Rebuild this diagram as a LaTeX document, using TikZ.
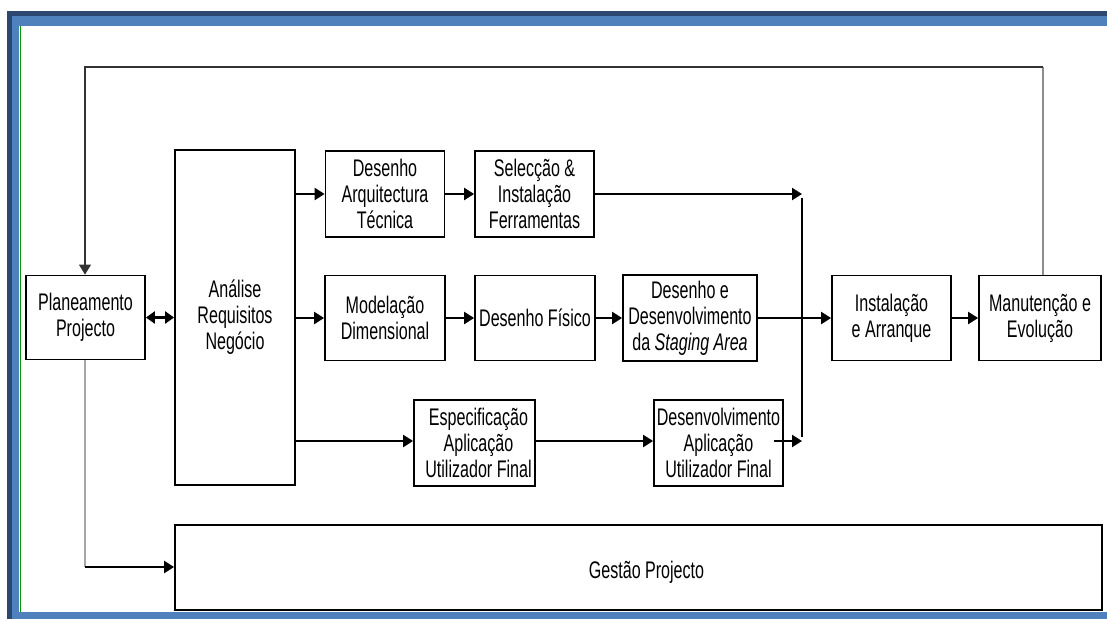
\documentclass[tikz,border=0pt]{standalone}
\usepackage{fontspec}
\setmainfont{Liberation Sans}[FakeStretch=0.67]
\usetikzlibrary{arrows.meta}
\definecolor{frameDark}{RGB}{44,71,112}
\definecolor{frameLight}{RGB}{79,129,189}
\tikzset{
  stepbox/.style={draw, line width=1.8pt, inner sep=0pt, align=center,
    font=\fontsize{24}{26}\selectfont},
  flow/.style={line width=2.2pt, -{Triangle[length=10pt,width=12pt]}},
  thinline/.style={line width=1.1pt},
}
\begin{document}
\begin{tikzpicture}[x=1pt,y=-1pt]
\useasboundingbox (0,0) rectangle (1107,619);
% page frame
\fill[frameDark] (7,11) rectangle (1107,16);
\fill[frameDark] (7,11) rectangle (12,619);
\fill[frameLight] (12,16) rectangle (1107,26);
\fill[frameLight] (12,16) rectangle (19,619);
\fill[frameLight] (12,612) rectangle (1107,619);
\draw[green!60!black, line width=0.6pt] (20,26) -- (20,612);

% steps
\node[stepbox, minimum width=119pt, minimum height=84pt] (plan) at (85.5,317.5) {Planeamento\\Projecto};
\node[stepbox, minimum width=120pt, minimum height=335pt] (ana) at (235,317.5) {Análise\\Requisitos\\Negócio};
\node[stepbox, minimum width=119pt, minimum height=86pt] (arq) at (385,194) {Desenho\\Arquitectura\\Técnica};
\node[stepbox, minimum width=119pt, minimum height=86pt] (sel) at (534.5,194) {Selecção \&\\Instalação\\Ferramentas};
\node[stepbox, minimum width=120pt, minimum height=85pt] (mod) at (385,318) {Modelação\\Dimensional};
\node[stepbox, minimum width=120pt, minimum height=85pt] (fis) at (535,318) {Desenho Físico};
\node[stepbox, minimum width=134pt, minimum height=86pt] (stg) at (690,318) {Desenho e\\Desenvolvimento\\da \textit{Staging Area}};
\node[stepbox, minimum width=119pt, minimum height=85pt] (ins) at (891.5,318) {Instalação\\e Arranque};
\node[stepbox, minimum width=122pt, minimum height=85pt] (man) at (1040,318) {Manutenção e\\Evolução};
\node[stepbox, minimum width=121pt, minimum height=86pt] (esp) at (474.5,443) {\hspace*{8pt}Especificação\\\hspace*{8pt}Aplicação\\\hspace*{8pt}Utilizador Final};
\node[stepbox, minimum width=129pt, minimum height=86pt] (dev) at (718.5,443) {Desenvolvimento\\Aplicação\\Utilizador Final};
\node[stepbox, minimum width=927pt, minimum height=85pt] (ges) at (638.5,567.5) {};
\node[font=\fontsize{24}{26}\selectfont, inner sep=0pt] (gestxt) at ([xshift=8pt,yshift=-5pt]ges.center) {Gestão Projecto};

% junction points
\coordinate (j1) at (802,194);
\coordinate (j3) at (802,441);
\coordinate (fbR) at (1043,67);
\coordinate (fbL) at (85,67);
\coordinate (pg) at (85,567);

% connectors
\draw[line width=2.2pt, {Triangle[length=9pt,width=12pt]}-{Triangle[length=9pt,width=12pt]}] (plan.east) -- (ana.west |- plan.east);
\draw[flow] (ana.east |- arq) -- (arq.west);
\draw[flow] (arq) -- (sel);
\draw[flow] (sel.east) -- (j1);
\draw[flow] (ana.east |- mod) -- (mod.west);
\draw[flow] (mod) -- (fis);
\draw[flow] (fis) -- (stg);
\draw[flow] (stg) -- (ins);
\draw[flow] (ins) -- (man);
\draw[flow] (ana.east |- j3) -- (esp.west |- j3);
\draw[flow] (esp.east |- j3) -- (dev.west |- j3);
\draw[flow] ([xshift=-10pt]dev.east |- j3) -- (j3);
\draw[thinline] ([yshift=-4pt]j1) -- ([yshift=4pt]j3);

% feedback loop
\draw[thinline, black!45] (man.north -| fbR) -- (fbR);
\draw[thinline, black!80, -{Triangle[length=10pt,width=12pt]}] (fbR) -- (fbL) -- (fbL |- plan.north);

% planning to project management
\draw[thinline, black!35] (plan.south -| pg) -- (pg);
\draw[flow] (pg) -- (ges.west |- pg);
\end{tikzpicture}
\end{document}
